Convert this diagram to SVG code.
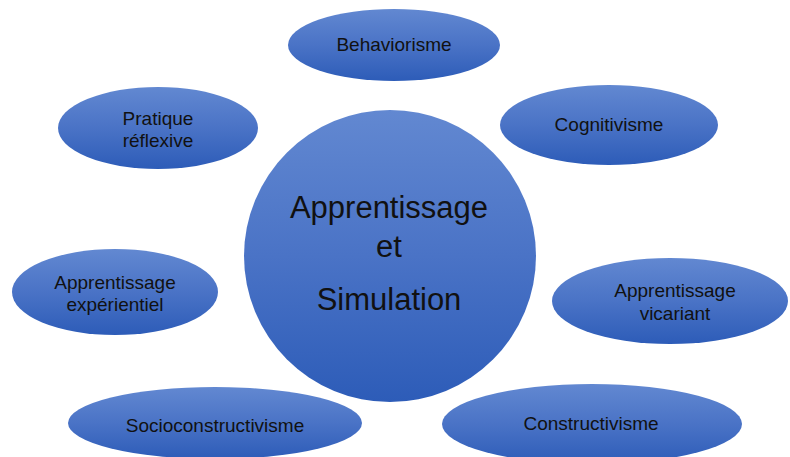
<svg xmlns="http://www.w3.org/2000/svg" width="790" height="457" viewBox="0 0 790 457">
  <defs>
    <linearGradient id="blue" x1="0" y1="0" x2="0" y2="1">
      <stop offset="0" stop-color="#6288d1"/>
      <stop offset="0.5" stop-color="#4a73c6"/>
      <stop offset="1" stop-color="#2d5cb8"/>
    </linearGradient>
    <style>
      .shape { fill: url(#blue); }
      .lbl { font-family: "Liberation Sans", Arial, sans-serif; font-size: 19px; fill: #111; text-anchor: middle; }
      .big { font-family: "Liberation Sans", Arial, sans-serif; font-size: 31px; fill: #111; text-anchor: middle; }
    </style>
  </defs>
  <rect width="790" height="457" fill="#ffffff"/>
  <g id="connectors"/>
  <g id="center">
    <circle class="shape" cx="390" cy="256" r="146"/>
    <text class="big" x="389" y="218">Apprentissage</text>
    <text class="big" x="389" y="257">et</text>
    <text class="big" x="389" y="310">Simulation</text>
  </g>
  <g id="behaviorisme">
    <ellipse class="shape" cx="394" cy="45" rx="106" ry="36"/>
    <text class="lbl" x="394" y="51">Behaviorisme</text>
  </g>
  <g id="cognitivisme">
    <ellipse class="shape" cx="609" cy="125" rx="109" ry="40"/>
    <text class="lbl" x="609" y="131">Cognitivisme</text>
  </g>
  <g id="pratique">
    <ellipse class="shape" cx="158" cy="128" rx="100" ry="41"/>
    <text class="lbl" x="158" y="125">Pratique</text>
    <text class="lbl" x="158" y="147">réflexive</text>
  </g>
  <g id="experientiel">
    <ellipse class="shape" cx="115" cy="292" rx="103" ry="43"/>
    <text class="lbl" x="115" y="289">Apprentissage</text>
    <text class="lbl" x="115" y="311">expérientiel</text>
  </g>
  <g id="vicariant">
    <ellipse class="shape" cx="670" cy="301" rx="118" ry="43"/>
    <text class="lbl" x="675" y="297">Apprentissage</text>
    <text class="lbl" x="675" y="320">vicariant</text>
  </g>
  <g id="socioconstructivisme">
    <ellipse class="shape" cx="215" cy="423" rx="147" ry="36"/>
    <text class="lbl" x="215" y="432">Socioconstructivisme</text>
  </g>
  <g id="constructivisme">
    <ellipse class="shape" cx="592" cy="424" rx="150" ry="40"/>
    <text class="lbl" x="591" y="430">Constructivisme</text>
  </g>
</svg>
